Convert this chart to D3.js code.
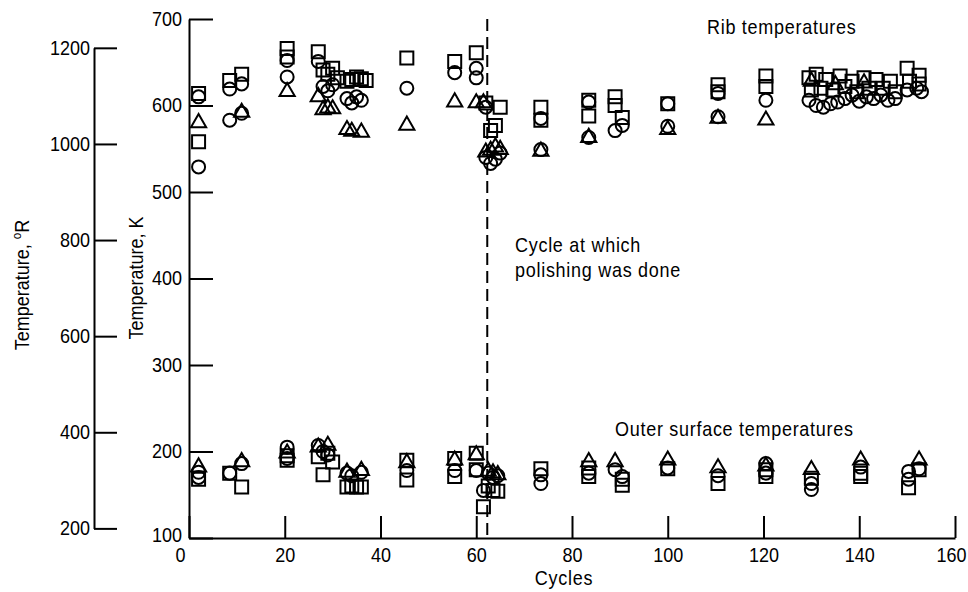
<!DOCTYPE html>
<html>
<head>
<meta charset="utf-8">
<script src="https://cdn.jsdelivr.net/npm/d3@7"></script>
<style>
  body { margin: 0; background: #fff; }
  svg text { font-family: "Liberation Sans", Arial, sans-serif; fill: #000; }
</style>
</head>
<body>
<svg id="chart" width="968" height="592"></svg>
<script>
// x ticks (cycles) and y ticks
const cycleTicks = [0, 20, 40, 60, 80, 100, 120, 140, 160];
const kelvinTicks = [100, 200, 300, 400, 500, 600, 700];
const rankineTicks = [200, 400, 600, 800, 1000, 1200];
const polishCycle = 62.3;

// rib temperatures, K  [cycle, value]
const ribCircles = [[2,610],[2,529],[8.5,619],[8.5,583],[11,625],[11,591],[20.5,652],[20.5,633],[27,651],[28,622],[29,617],[30,624],
  [33,608],[34,603],[35,610],[36,606],[45.5,620],[55.5,638],[60,643],[60,632],[62,598],[62,540],[63,533],[64,538],[65,545],
  [73.5,585],[73.5,549],[83.5,604],[83.5,563],[89,571],[90.5,577],[100,602],[100,576],[110.5,614],[110.5,587],[120.5,606],
  [129.5,606],[131,600],[132.5,598],[134,602],[135.5,604],[137,608],[138.5,612],[140,605],[141.5,610],[143,608],[144.5,612],
  [146,606],[147.5,608],[150,618],[152,620],[153,616]];
const ribSquares = [[2,614],[2,558],[8.5,629],[11,636],[20.5,666],[20.5,656],[27,662],[28,641],[29,636],[30,643],[31,632],
  [33,628],[34,630],[35,633],[36,631],[37,629],[45.5,655],[55.5,651],[60,661],[62,603],[63,571],[64,577],[65,598],
  [73.5,598],[73.5,583],[83.5,606],[83.5,588],[89,610],[89,600],[90.5,586],[100,602],[110.5,624],[110.5,616],[120.5,634],
  [120.5,622],[129.5,632],[130,618],[131,636],[132,620],[133,630],[134.5,618],[136,634],[137,622],[138.5,628],[139.5,616],
  [141,632],[142,620],[143.5,630],[145,620],[146.5,628],[147.5,616],[150,643],[150.5,628],[152.5,635],[152.5,625]];
const ribTriangles = [[2,580],[11,592],[20.5,616],[27,610],[28,595],[29,597],[30,596],[33,572],[34,570],[36,569],[45.5,577],
  [55.5,604],[60,603],[61.5,603],[62,546],[63,548],[64,552],[65,549],[73.5,547],[83.5,563],[100,572],[110.5,585],[120.5,583],
  [130,628],[135,624],[141,626]];

// outer surface temperatures, K
const outerCircles = [[2,176],[2,170],[8.5,175],[11,186],[20.5,205],[20.5,192],[27,207],[28,200],[29,196],[33,175],[34,172],
  [36,176],[45.5,178],[55.5,178],[60,178],[61.5,155],[62.5,175],[63.5,170],[64.5,172],[73.5,173],[73.5,163],[83.5,175],
  [89,179],[90.5,171],[100,181],[110.5,172],[120.5,186],[120.5,175],[130,163],[130,156],[140.3,182],[150.3,177],[150.3,168],
  [152.5,180]];
const outerSquares = [[2,168],[8.5,175],[11,159],[20.5,195],[20.5,190],[27,194],[28,173],[29,198],[30,188],[33,159],[34,160],
  [35,159],[36,159],[45.5,190],[45.5,167],[55.5,192],[55.5,171],[60,198],[60,179],[61.5,136],[62.5,160],[63.5,155],[64.5,154],
  [73.5,180],[83.5,181],[83.5,171],[90.5,168],[90.5,161],[100,180],[110.5,163],[120.5,179],[120.5,171],[130,169],[140.3,175],
  [140.3,171],[150.3,158],[152.5,179]];
const outerTriangles = [[2,182],[11,188],[20.5,198],[27,205],[29,207],[33,176],[36,178],[45.5,187],[55.5,190],[60,196],
  [62.5,177],[63.5,175],[64.5,173],[83.5,188],[89,188],[100,190],[110.5,181],[120.5,183],[130,179],[140.3,190],[152.5,190]];

const svg = d3.select("#chart");
const NARROW = 0.9; // the original lettering is condensed

const x = d3.scaleLinear().domain([0, 160]).range([189, 955]);
const y = d3.scaleLinear().domain([100, 700]).range([538, 19]);
// Rankine scale lines up with kelvin: R = 1.8 K
const yR = d3.scaleLinear().domain([200, 1200]).range([y(200 / 1.8), y(1200 / 1.8)]);

function styleAxis(g) {
    g.selectAll("path, line").attr("stroke", "#000").attr("stroke-width", 2);
    g.selectAll("text").attr("font-size", 20).attr("font-family", null).attr("fill", "#000");
}

const xAxis = svg.append("g")
    .attr("transform", "translate(0,538)")
    .call(d3.axisBottom(x).tickValues(cycleTicks).tickSize(-22).tickSizeOuter(0).tickPadding(10))
    .call(styleAxis);
// nudge end labels like the original
xAxis.selectAll(".tick text").attr("x", d => d === 0 ? -9 : d === 160 ? -4 : 0);

const kAxis = svg.append("g")
    .attr("transform", "translate(189,0)")
    .call(d3.axisLeft(y).tickValues(kelvinTicks).tickSize(-24).tickSizeOuter(0).tickPadding(7))
    .call(styleAxis);
kAxis.selectAll(".tick text").attr("y", d => d === 100 ? -3 : 0);

svg.append("g")
    .attr("transform", "translate(94,0)")
    .call(d3.axisLeft(yR).tickValues(rankineTicks).tickFormat(d3.format("d")).tickSize(-23).tickSizeOuter(0).tickPadding(4))
    .call(styleAxis);

// condense every tick label
svg.selectAll("text").each(function () {
    const t = d3.select(this);
    const tx = +t.attr("x") || 0, ty = +t.attr("y") || 0;
    t.attr("x", null).attr("y", null)
        .attr("transform", "translate(" + tx + "," + ty + ") scale(" + NARROW + ",1)");
});

function label(px, py, str) {
    return svg.append("text")
        .attr("transform", "translate(" + px + "," + py + ") scale(" + NARROW + ",1)")
        .attr("font-size", 20).attr("letter-spacing", 0.8).text(str);
}

// axis titles
svg.append("text")
    .attr("transform", "translate(136,278) rotate(-90) scale(" + NARROW + ",1)")
    .attr("text-anchor", "middle").attr("dy", "0.35em").attr("font-size", 20)
    .text("Temperature,  K");

const rTitle = svg.append("text")
    .attr("transform", "translate(22,285) rotate(-90) scale(" + NARROW + ",1)")
    .attr("text-anchor", "middle").attr("dy", "0.35em").attr("font-size", 20);
rTitle.append("tspan").text("Temperature,  ");
rTitle.append("tspan").attr("font-size", 13).attr("dy", "-0.6em").text("o");
rTitle.append("tspan").attr("dy", "0.4em").text("R");

label((x(0) + x(160)) / 2 - 8, 585, "Cycles").attr("text-anchor", "middle");

// polishing line
svg.append("line")
    .attr("x1", x(polishCycle)).attr("x2", x(polishCycle))
    .attr("y1", y(700)).attr("y2", y(100))
    .attr("stroke", "#000").attr("stroke-width", 2)
    .attr("stroke-dasharray", "12,6");

label(515, 252, "Cycle at which");
label(515, 277, "polishing was done");
label(707, 34, "Rib temperatures");
label(615, 436, "Outer surface temperatures");

function drawPoints(data, type, size) {
    const sym = d3.symbol().type(type).size(size);
    svg.append("g").selectAll("path")
        .data(data)
        .join("path")
        .attr("transform", d => "translate(" + x(d[0]) + "," + y(d[1]) + ")")
        .attr("d", sym)
        .attr("fill", "none")
        .attr("stroke", "#000")
        .attr("stroke-width", 2);
}

drawPoints(ribSquares, d3.symbolSquare, 169);
drawPoints(outerSquares, d3.symbolSquare, 169);
drawPoints(ribCircles, d3.symbolCircle, 133);
drawPoints(outerCircles, d3.symbolCircle, 133);
drawPoints(ribTriangles, d3.symbolTriangle, 100);
drawPoints(outerTriangles, d3.symbolTriangle, 100);
</script>
</body>
</html>
